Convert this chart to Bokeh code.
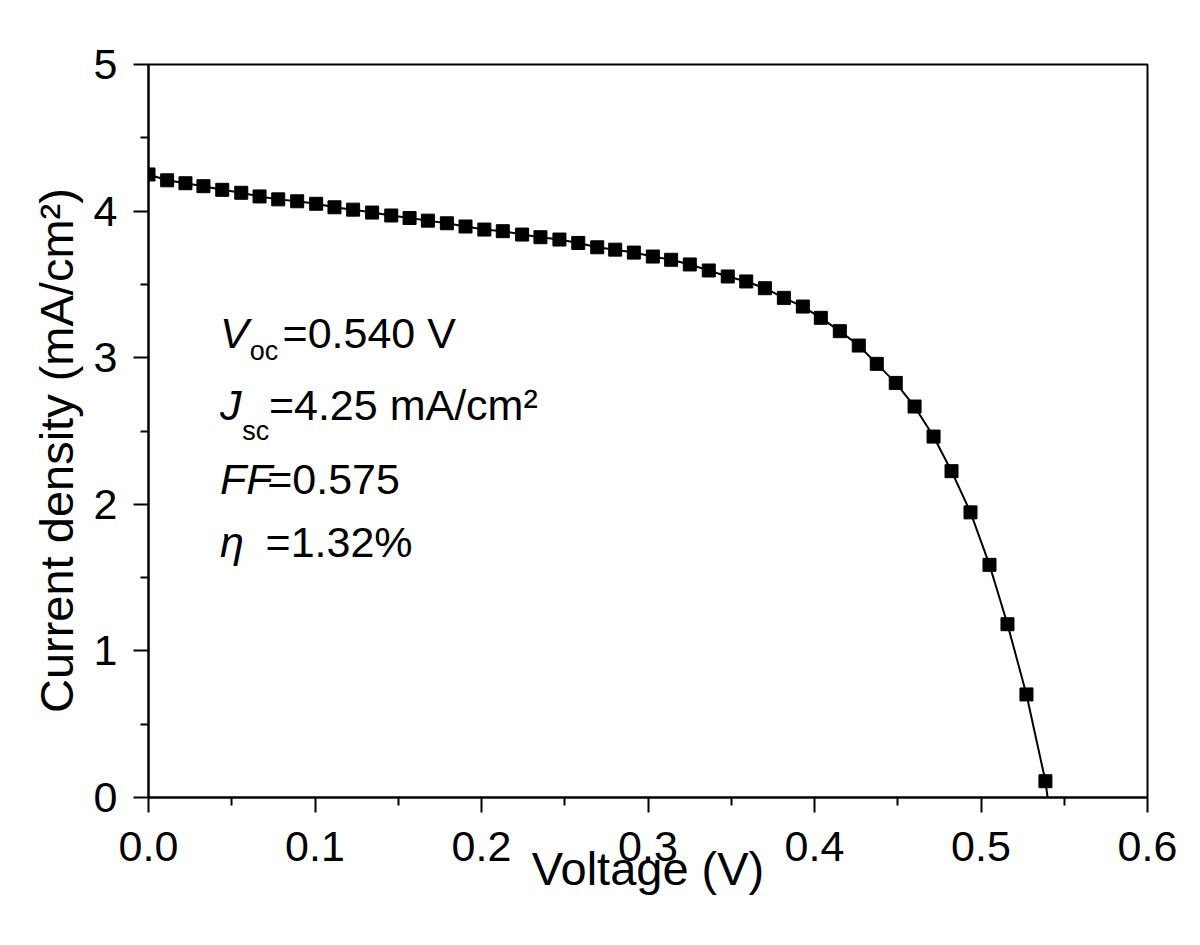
from bokeh.plotting import figure
from bokeh.models import Label, FixedTicker, PrintfTickFormatter, Range1d
from bokeh.embed import file_html
from bokeh.resources import INLINE

voltage = [0.0000, 0.0112, 0.0222, 0.0330, 0.0443, 0.0557, 0.0667, 0.0779, 0.0893, 0.1007,
           0.1117, 0.1229, 0.1343, 0.1458, 0.1568, 0.1678, 0.1792, 0.1904, 0.2017, 0.2128,
           0.2244, 0.2354, 0.2468, 0.2581, 0.2695, 0.2803, 0.2915, 0.3029, 0.3139, 0.3251,
           0.3365, 0.3479, 0.3590, 0.3702, 0.3816, 0.3930, 0.4038, 0.4152, 0.4266, 0.4374,
           0.4488, 0.4601, 0.4715, 0.4823, 0.4937, 0.5051, 0.5159, 0.5273, 0.5387]
current = [4.25, 4.21, 4.19, 4.17, 4.145, 4.125, 4.10, 4.08, 4.067, 4.05,
           4.026, 4.01, 3.99, 3.97, 3.953, 3.935, 3.917, 3.895, 3.874, 3.863,
           3.84, 3.822, 3.806, 3.783, 3.753, 3.737, 3.717, 3.69, 3.668, 3.636,
           3.595, 3.554, 3.52, 3.474, 3.408, 3.349, 3.272, 3.181, 3.083, 2.958,
           2.828, 2.667, 2.462, 2.226, 1.945, 1.587, 1.182, 0.703, 0.111]

# Open-circuit end of the fitted line
voc = 0.540
line_x = voltage + [voc]
line_y = current + [0.0]

x_ticks = [0.0, 0.1, 0.2, 0.3, 0.4, 0.5, 0.6]
x_minor = [0.05, 0.15, 0.25, 0.35, 0.45, 0.55]
y_ticks = [0, 1, 2, 3, 4, 5]
y_minor = [0.5, 1.5, 2.5, 3.5, 4.5]

FONT = "Liberation Sans"

p = figure(width=1184, height=929, output_backend="svg", toolbar_location=None,
           x_range=Range1d(0, 0.6), y_range=Range1d(0, 5),
           min_border_left=148, min_border_right=37, min_border_top=64, min_border_bottom=132)

p.grid.visible = False
p.background_fill_color = "white"
p.border_fill_color = "white"
p.outline_line_color = "black"
p.outline_line_width = 2

p.line(line_x, line_y, line_color="black", line_width=2)
p.scatter(voltage, current, marker="square", size=13, fill_color="black", line_color="black")

for ax, ticks, minor in ((p.xaxis[0], x_ticks, x_minor), (p.yaxis[0], y_ticks, y_minor)):
    ax.ticker = FixedTicker(ticks=ticks, minor_ticks=minor)
    ax.axis_line_width = 2
    ax.major_tick_line_width = 2
    ax.minor_tick_line_width = 2
    ax.major_tick_out = 15
    ax.major_tick_in = 0
    ax.minor_tick_out = 8
    ax.minor_tick_in = 0
    ax.major_label_text_font = FONT
    ax.major_label_text_font_size = "43px"
    ax.major_label_text_color = "black"
    ax.axis_label_text_font = FONT
    ax.axis_label_text_font_size = "47px"
    ax.axis_label_text_font_style = "normal"
    ax.axis_label_text_color = "black"

p.xaxis[0].formatter = PrintfTickFormatter(format="%.1f")
p.xaxis[0].axis_label = "Voltage (V)"
# trailing no-break spaces nudge the centred title slightly downwards, as in the original
p.yaxis[0].axis_label = "Current density (mA/cm²)\u00a0\u00a0\u00a0"
p.xaxis[0].major_label_standoff = 19
p.yaxis[0].major_label_standoff = 16
p.xaxis[0].axis_label_standoff = -22
p.yaxis[0].axis_label_standoff = 8

def lab(x, y, text, size="43px", style="normal"):
    p.add_layout(Label(x=x, y=y, text=text, text_font=FONT, text_font_size=size,
                       text_font_style=style, text_color="black",
                       text_align="left", text_baseline="alphabetic"))

lab(0.043, 3.17, "V", style="italic")
lab(0.0608, 3.047, "oc", size="27px")
lab(0.0805, 3.17, "=0.540 V")

lab(0.043, 2.678, "J", style="italic")
lab(0.0563, 2.501, "sc", size="27px")
lab(0.0723, 2.678, "=4.25 mA/cm²")

lab(0.043, 2.175, "FF", style="italic")
lab(0.0713, 2.175, "=0.575")

lab(0.043, 1.74, "η", style="italic")
lab(0.0703, 1.74, "=1.32%")

open("out.html", "w").write(file_html(p, INLINE))
